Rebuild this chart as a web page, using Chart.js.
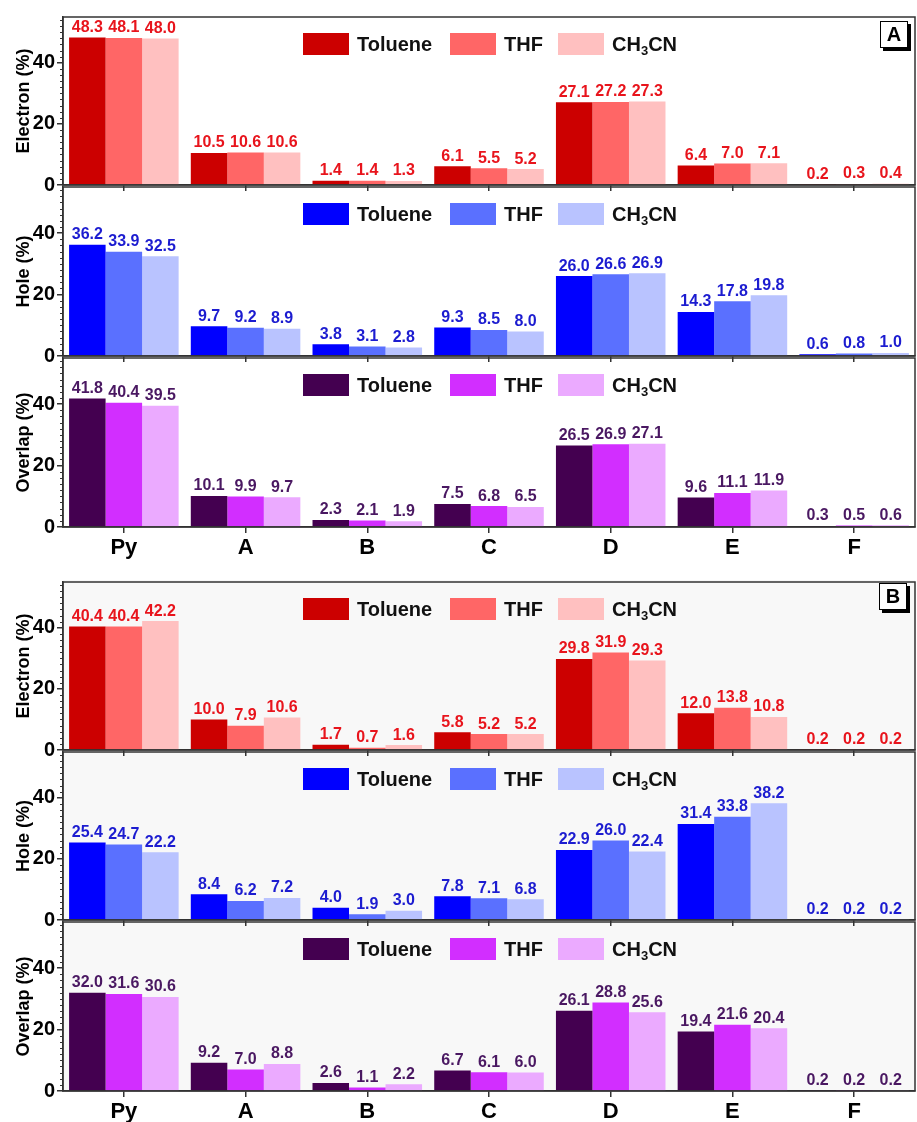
<!DOCTYPE html>
<html>
<head>
<meta charset="utf-8">
<script src="https://cdn.jsdelivr.net/npm/chart.js@4/dist/chart.umd.min.js"></script>
<style>
  body { margin: 0; background: #fff; font-family: "Liberation Sans", Arial, sans-serif; }
  #wrap { position: relative; width: 917px; height: 1122px; overflow: hidden; }
  canvas { position: absolute; left: 0; }
  .legend { position: absolute; left: 0; height: 22px; width: 917px; z-index: 5; }
  .legend .box { position: absolute; top: 0; width: 46px; height: 22px; }
  .legend .txt { position: absolute; top: -1px; font-weight: bold; font-size: 20px; line-height: 24px; color: #111; }
  .legend sub { font-size: 13px; line-height: 0; vertical-align: -4px; }
  .tag { position: absolute; width: 26px; height: 25px; border: 1.5px solid #000; background: #fff;
         box-shadow: 3px 3px 0 #000; font-weight: bold; font-size: 20px; line-height: 25px; text-align: center; z-index: 5; }
  .bgB { position: absolute; left: 63px; top: 580px; width: 852px; height: 511px; background: #f8f8f8; }
</style>
</head>
<body>
<div id="wrap">
  <div class="bgB"></div>
</div>
<script>
// categories and series
const categories = ['Py', 'A', 'B', 'C', 'D', 'E', 'F'];
const solvents = ['Toluene', 'THF', 'CH3CN'];
const yTicks = [0, 20, 40];

// panel A
const aElectronToluene = [48.3, 10.5, 1.4, 6.1, 27.1, 6.4, 0.2];
const aElectronTHF     = [48.1, 10.6, 1.4, 5.5, 27.2, 7.0, 0.3];
const aElectronCH3CN   = [48.0, 10.6, 1.3, 5.2, 27.3, 7.1, 0.4];
const aHoleToluene = [36.2, 9.7, 3.8, 9.3, 26.0, 14.3, 0.6];
const aHoleTHF     = [33.9, 9.2, 3.1, 8.5, 26.6, 17.8, 0.8];
const aHoleCH3CN   = [32.5, 8.9, 2.8, 8.0, 26.9, 19.8, 1.0];
const aOverlapToluene = [41.8, 10.1, 2.3, 7.5, 26.5, 9.6, 0.3];
const aOverlapTHF     = [40.4, 9.9, 2.1, 6.8, 26.9, 11.1, 0.5];
const aOverlapCH3CN   = [39.5, 9.7, 1.9, 6.5, 27.1, 11.9, 0.6];

// panel B
const bElectronToluene = [40.4, 10.0, 1.7, 5.8, 29.8, 12.0, 0.2];
const bElectronTHF     = [40.4, 7.9, 0.7, 5.2, 31.9, 13.8, 0.2];
const bElectronCH3CN   = [42.2, 10.6, 1.6, 5.2, 29.3, 10.8, 0.2];
const bHoleToluene = [25.4, 8.4, 4.0, 7.8, 22.9, 31.4, 0.2];
const bHoleTHF     = [24.7, 6.2, 1.9, 7.1, 26.0, 33.8, 0.2];
const bHoleCH3CN   = [22.2, 7.2, 3.0, 6.8, 22.4, 38.2, 0.2];
const bOverlapToluene = [32.0, 9.2, 2.6, 6.7, 26.1, 19.4, 0.2];
const bOverlapTHF     = [31.6, 7.0, 1.1, 6.1, 28.8, 21.6, 0.2];
const bOverlapCH3CN   = [30.6, 8.8, 2.2, 6.0, 25.6, 20.4, 0.2];

// colours
const electronColors = ['#CC0000', '#FF6666', '#FFC0C0'];
const holeColors = ['#0000FF', '#5A70FF', '#B9C3FF'];
const overlapColors = ['#440050', '#D22EFF', '#EBAAFF'];

const FONT = '"Liberation Sans", Arial, sans-serif';
const PAD_TOP = 12;
const AXIS = '#333';

const rows = [
    { title: 'Electron (%)', top: 15, bottom: 185, series: [aElectronToluene, aElectronTHF, aElectronCH3CN], colors: electronColors, label: '#E8141C', showX: false },
    { title: 'Hole (%)', top: 185, bottom: 356, series: [aHoleToluene, aHoleTHF, aHoleCH3CN], colors: holeColors, label: '#1C1CD0', showX: false },
    { title: 'Overlap (%)', top: 356, bottom: 527, series: [aOverlapToluene, aOverlapTHF, aOverlapCH3CN], colors: overlapColors, label: '#4A1862', showX: true },
    { title: 'Electron (%)', top: 580, bottom: 750, series: [bElectronToluene, bElectronTHF, bElectronCH3CN], colors: electronColors, label: '#E8141C', showX: false },
    { title: 'Hole (%)', top: 750, bottom: 920, series: [bHoleToluene, bHoleTHF, bHoleCH3CN], colors: holeColors, label: '#1C1CD0', showX: false },
    { title: 'Overlap (%)', top: 920, bottom: 1091, series: [bOverlapToluene, bOverlapTHF, bOverlapCH3CN], colors: overlapColors, label: '#4A1862', showX: true }
];

// value labels above bars
const valueLabels = {
    id: 'valueLabels',
    afterDatasetsDraw(chart, args, opts) {
        const ctx = chart.ctx;
        ctx.save();
        ctx.font = 'bold 16px ' + FONT;
        ctx.fillStyle = opts.color;
        ctx.textAlign = 'center';
        ctx.textBaseline = 'bottom';
        chart.data.datasets.forEach((ds, i) => {
            chart.getDatasetMeta(i).data.forEach((bar, j) => {
                ctx.fillText(ds.data[j].toFixed(1), bar.x, bar.y - 2);
            });
        });
        ctx.restore();
    }
};

// frame round the plot area + minor ticks on y
const frame = {
    id: 'frame',
    afterDraw(chart) {
        const { ctx, chartArea: a, scales } = chart;
        ctx.save();
        ctx.strokeStyle = AXIS;
        ctx.lineWidth = 1.5;
        ctx.strokeRect(a.left, a.top, a.right - a.left, a.bottom - a.top);
        ctx.lineWidth = 1;
        for (let v = 2; v < 55; v += 2) {
            if (v % 20 === 0) continue;
            const y = Math.round(scales.y.getPixelForValue(v)) + 0.5;
            ctx.beginPath();
            ctx.moveTo(a.left - 3, y);
            ctx.lineTo(a.left, y);
            ctx.stroke();
        }
        ctx.restore();
    }
};

const wrap = document.getElementById('wrap');

rows.forEach((row, r) => {
    const bottomPad = row.showX ? 34 : 14;
    const canvas = document.createElement('canvas');
    const h = PAD_TOP + (row.bottom - row.top) + bottomPad;
    canvas.width = 917;
    canvas.height = h;
    canvas.style.top = (row.top - PAD_TOP) + 'px';
    canvas.style.zIndex = 1 + r;
    wrap.appendChild(canvas);

    new Chart(canvas, {
        type: 'bar',
        data: {
            labels: categories,
            datasets: row.series.map((d, i) => ({
                label: solvents[i],
                data: d,
                backgroundColor: row.colors[i],
                borderWidth: 0,
                categoryPercentage: 0.9,
                barPercentage: 1.0
            }))
        },
        options: {
            responsive: false,
            animation: false,
            layout: { padding: { top: PAD_TOP, right: 2, left: 0, bottom: 0 } },
            plugins: {
                legend: { display: false },
                tooltip: { enabled: false },
                valueLabels: { color: row.label }
            },
            scales: {
                x: {
                    grid: { offset: false, drawOnChartArea: false, tickLength: 6, color: AXIS, lineWidth: 1.5 },
                    border: { color: AXIS, width: 1.5 },
                    ticks: { display: row.showX, color: '#000', padding: 2, font: { family: FONT, size: 22, weight: 'bold' } },
                    afterFit: s => { s.height = bottomPad; }
                },
                y: {
                    min: 0,
                    max: 55,
                    afterBuildTicks: s => { s.ticks = yTicks.map(v => ({ value: v })); },
                    ticks: { color: '#000', padding: 2, font: { family: FONT, size: 20, weight: 'bold' } },
                    grid: { drawOnChartArea: false, tickLength: 6, color: AXIS, lineWidth: 1.5 },
                    border: { color: AXIS, width: 1.5 },
                    title: { display: true, text: row.title, color: '#000', padding: { top: 13, bottom: 0 },
                             font: { family: FONT, size: 18, weight: 'bold' } },
                    afterFit: s => { s.width = 63; }
                }
            }
        },
        plugins: [valueLabels, frame]
    });

    // legend (html so CH3CN gets a real subscript)
    const lg = document.createElement('div');
    lg.className = 'legend';
    lg.style.top = (row.top + 18) + 'px';
    const boxX = [303, 450, 558];
    const names = ['Toluene', 'THF', 'CH<sub>3</sub>CN'];
    names.forEach((n, i) => {
        lg.innerHTML += '<div class="box" style="left:' + boxX[i] + 'px;background:' + row.colors[i] + '"></div>' +
                        '<div class="txt" style="left:' + (boxX[i] + 54) + 'px">' + n + '</div>';
    });
    wrap.appendChild(lg);
});

// panel tags
[['A', 880, 21], ['B', 879, 583]].forEach(t => {
    const d = document.createElement('div');
    d.className = 'tag';
    d.textContent = t[0];
    d.style.left = t[1] + 'px';
    d.style.top = t[2] + 'px';
    wrap.appendChild(d);
});
</script>
</body>
</html>
